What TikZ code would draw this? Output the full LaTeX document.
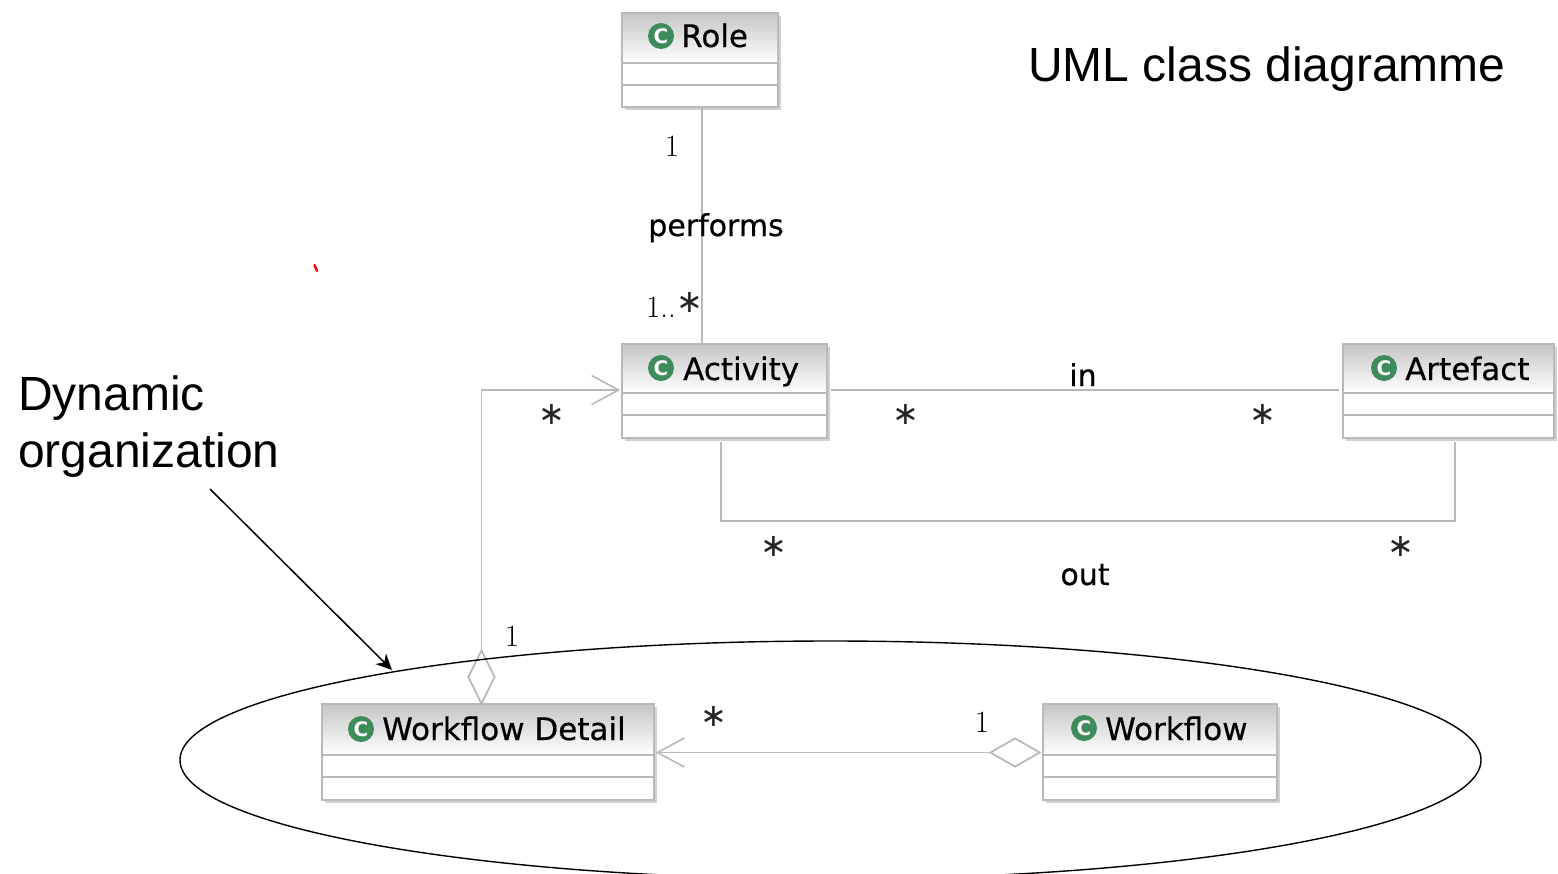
\documentclass[tikz,border=0pt]{standalone}
\usepackage{fontspec}
\setmainfont{Liberation Sans}
\newfontfamily\umlfont[FakeBold=0.5]{DejaVu Sans}
\newfontfamily\iconfont{DejaVu Sans}
\newfontfamily\lmfont{Latin Modern Roman}
\usetikzlibrary{shapes.geometric,arrows.meta,shadows}
\definecolor{umlline}{RGB}{185,185,185}
\definecolor{umlicon}{RGB}{62,140,92}
\tikzset{
  x=1pt,y=-1pt,
  classbox/.style={draw=umlline,line width=1.4pt,fill=white,inner sep=0pt,
    drop shadow={shadow xshift=2.5pt,shadow yshift=-2.5pt,fill=black,opacity=.18}},
  classname/.style={font=\umlfont\fontsize{31}{31}\selectfont,anchor=base west,inner sep=0pt,text=black},
  icon/.style={circle,fill=umlicon,inner sep=0pt,minimum size=26pt,text=white,font=\iconfont\bfseries\fontsize{20}{20}\selectfont},
  assoc/.style={draw=umlline,line width=1.6pt},
  aggr/.style={diamond,draw=umlline,line width=1.8pt,fill=white,inner sep=0pt,aspect=1},
  openhead/.style={-{Straight Barb[length=27pt,width=29pt,line width=1.6pt]}},
  rolelabel/.style={font=\umlfont\fontsize{30}{30}\selectfont,anchor=base,inner sep=0pt},
  mult/.style={font=\lmfont\fontsize{31}{31}\selectfont,anchor=base,inner sep=0pt,text=black},
  star/.style={font=\iconfont\fontsize{32}{32}\selectfont,inner sep=0pt,text=black!85},
  note/.style={font=\fontsize{48}{54}\selectfont,anchor=base west,inner sep=0pt,text=black},
  noteline/.style={draw=black,line width=1.5pt},
  header/.style={top color=black!22,bottom color=white,draw=none}
}
\newcommand{\umlclass}[8]{%
  \pgfmathsetmacro\boxw{#4-#2}\pgfmathsetmacro\boxh{#5-#3}%
  \pgfmathsetmacro\boxcx{(#2+#4)/2}\pgfmathsetmacro\boxcy{(#3+#5)/2}%
  \node[classbox,minimum width=\boxw pt,minimum height=\boxh pt] (#1) at (\boxcx,\boxcy) {};
  \path[header] (#2+1,#3+1) rectangle (#4-1,#6);
  \draw[assoc] (#1.west |- 0,#6) -- (#1.east |- 0,#6);
  \draw[assoc] (#1.west |- 0,#7) -- (#1.east |- 0,#7);
  #8
}
\begin{document}
\begin{tikzpicture}
\useasboundingbox (0,0) rectangle (1558,873);
\clip (0,0) rectangle (1558,873);
\fill[white] (0,0) rectangle (1558,873);

\umlclass{role}{622}{13}{778}{107}{63}{85}{%
  \node[icon] (roleicon) at (661,36) {C};
  \node[classname] (rolename) at (681,47) {Role};}
\umlclass{activity}{622}{344}{827}{438}{393}{415}{%
  \node[icon] (acticon) at (661,368) {C};
  \node[classname] (actname) at (683,380) {Activity};}
\umlclass{artefact}{1343}{344}{1554}{438}{393}{415}{%
  \node[icon] (articon) at (1384,368) {C};
  \node[classname] (artname) at (1405,380) {Artefact};}
\umlclass{detail}{322}{704}{654}{800}{755}{777}{%
  \node[icon] (deticon) at (361,729) {C};
  \node[classname] (detname) at (382,740) {Workflow Detail};}
\umlclass{workflow}{1043}{704}{1277}{800}{755}{777}{%
  \node[icon] (wficon) at (1084,728) {C};
  \node[classname] (wfname) at (1105,740) {Workflow};}

% performs
\draw[assoc] ([xshift=2pt]role.south) -- ([xshift=2pt]role.south |- activity.north);
\node[rolelabel] (performs) at (716,236) {performs};
\node[mult] (m1) at (672,156) {1};
\node[mult] (m2) at (661,317) {1..};
\node[star] (m3) at (690,302) {∗};

% in
\draw[assoc] ([xshift=3pt,yshift=1pt]activity.east) -- ([xshift=-3pt,yshift=1pt]artefact.west);
\node[rolelabel] (inlabel) at (1083,386) {in};
\node[star] (s1) at (906,414) {∗};
\node[star] (s2) at (1263,414) {∗};

% out
\coordinate (outa) at (721,521);
\coordinate (outb) at (1455,521);
\draw[assoc] ([yshift=-3pt]outa |- activity.south) -- (outa) -- (outb) -- ([yshift=-3pt]outb |- artefact.south);
\node[rolelabel] (outlabel) at (1085,585) {out};
\node[star] (s3) at (774,546) {∗};
\node[star] (s4) at (1401,546) {∗};

% aggregation detail -> activity
\node[aggr,minimum width=27pt,minimum height=54pt] (d1) at (481.5,677) {};
\coordinate (bend1) at (d1.north |- 0,390);
\draw[assoc,openhead] (d1.north) -- (bend1) -- ([xshift=-1pt]bend1 -| activity.west);
\node[star] (s5) at (552,414) {∗};
\node[mult] (m4) at (512,646) {1};

% aggregation workflow -> detail
\node[aggr,minimum width=50pt,minimum height=29pt] (d2) at (1015,752.5) {};
\draw[assoc,openhead] (d2.west) -- ([xshift=1pt]d2.west -| detail.east);
\node[star] (s6) at (714,716) {∗};
\node[mult] (m5) at (982,732) {1};

% notes
\node[note] (title) at (1028,81) {UML class diagramme};
\node[note] (dyn1) at (18,410) {Dynamic};
\node[note] (dyn2) at (18,467) {organization};

\node[ellipse,draw=black,line width=1.4pt,inner sep=0pt,minimum width=1301pt,minimum height=238pt] (group) at (830.5,760) {};
\coordinate (arrowstart) at (210,489);
\coordinate (arrowend) at (392,670);
\draw[noteline,-{Stealth[length=16pt,width=15pt]}] (arrowstart) -- (arrowend);

% red mark
\draw[red,line width=2.4pt,line cap=round] (314.5,265) -- (317,271);
\end{tikzpicture}
\end{document}
